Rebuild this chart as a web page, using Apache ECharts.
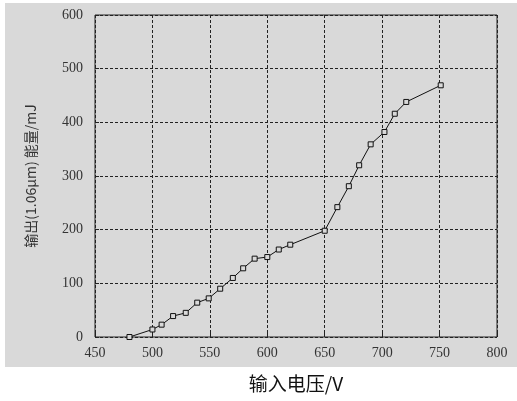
<!DOCTYPE html>
<html>
<head>
<meta charset="utf-8">
<script src="https://cdn.jsdelivr.net/npm/echarts@6/dist/echarts.min.js"></script>
<style>html,body{margin:0;padding:0;background:#fff}#c{width:517px;height:401px}</style>
</head>
<body>
<div id="c"></div>
<script>
var voltage = [480, 500, 508, 518, 529, 539, 549, 559, 570, 579, 589, 600, 610, 620, 650, 661, 671, 680, 690, 702, 711, 721, 751];
var energy  = [0, 14, 23, 39, 45, 64, 72, 90, 110, 128, 146, 149, 163, 172, 198, 242, 281, 320, 359, 382, 416, 438, 469];
var xTicks = [450, 500, 550, 600, 650, 700, 750, 800];
var yTicks = [0, 100, 200, 300, 400, 500, 600];
var xName = '输入电压/V';
var yName = '输出(1.06μm) 能量/mJ';

var chart = echarts.init(document.getElementById('c'), null, {renderer: 'canvas'});
var pts = voltage.map(function (v, i) { return [v, energy[i]]; });
var labelFont = {fontFamily: 'Liberation Serif', fontSize: 14, color: '#333'};
chart.setOption({
  animation: false,
  backgroundColor: '#ffffff',
  graphic: [{
    type: 'rect', z: -10, silent: true,
    shape: {x: 5, y: 3, width: 512, height: 364},
    style: {fill: '#d9d9d9'}
  }],
  grid: {left: 95, top: 15, right: 20, bottom: 64, show: true, borderColor: '#222', borderWidth: 1, backgroundColor: 'transparent'},
  xAxis: {
    type: 'value', min: xTicks[0], max: xTicks[xTicks.length - 1], interval: 50,
    name: xName, nameLocation: 'middle', nameGap: 37,
    nameTextStyle: {fontFamily: 'Noto Sans CJK SC', fontSize: 19, color: '#111'},
    axisLine: {show: false},
    axisTick: {show: true, inside: true, length: 4, lineStyle: {color: '#222'}},
    axisLabel: Object.assign({margin: 9}, labelFont),
    splitLine: {show: true, lineStyle: {color: '#222', type: [3, 2], width: 1}}
  },
  yAxis: {
    type: 'value', min: yTicks[0], max: yTicks[yTicks.length - 1], interval: 100,
    name: yName, nameLocation: 'middle', nameGap: 57, nameRotate: 90,
    nameTextStyle: {fontFamily: 'Noto Sans CJK SC', fontSize: 14, color: '#333'},
    axisLine: {show: false},
    axisTick: {show: true, inside: true, length: 4, lineStyle: {color: '#222'}},
    axisLabel: Object.assign({margin: 12}, labelFont),
    splitLine: {show: true, lineStyle: {color: '#222', type: [3, 2], width: 1}}
  },
  series: [{
    type: 'line', data: pts,
    symbol: 'rect', symbolSize: 5,
    lineStyle: {color: '#111', width: 1},
    itemStyle: {color: '#d9d9d9', borderColor: '#111', borderWidth: 1}
  }]
});
</script>
</body>
</html>
